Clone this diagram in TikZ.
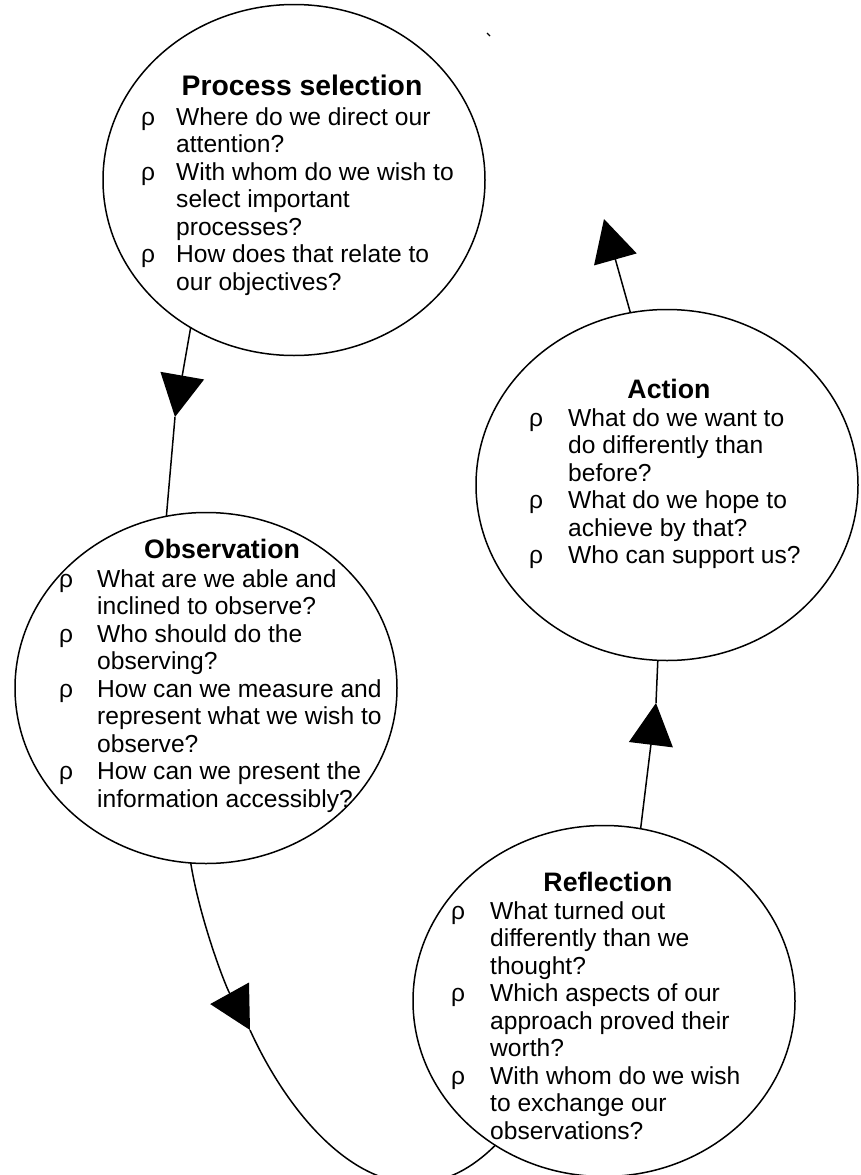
\documentclass[tikz,border=0pt]{standalone}
\usepackage{fontspec}
\setmainfont{Liberation Sans}
\usetikzlibrary{shapes.geometric,arrows.meta}
\tikzset{
  bubble/.style={ellipse, draw, line width=1.5pt, minimum width=382pt, minimum height=351pt, inner sep=0pt, outer sep=0pt},
  ttl/.style={anchor=base, inner sep=0pt, font=\fontsize{26.7}{30}\selectfont\bfseries},
  qs/.style={anchor=base west, inner sep=0pt, align=left, font=\fontsize{24.6}{27.5}\selectfont},
  conn/.style={line width=1.5pt},
  arr/.style={-{Triangle[width=44pt,length=42pt]}},
}
\begin{document}
\begin{tikzpicture}[x=1pt,y=-1pt]
\useasboundingbox (0,0) rectangle (860,1175);
% bubbles
\node[bubble] (ps) at (294,180) {};
\node[bubble] (obs) at (206,688) {};
\node[bubble] (act) at (667,485) {};
\node[bubble] (refl) at (604,1001) {};
% titles
\node[ttl, font=\fontsize{28.3}{30}\selectfont\bfseries] (pst) at (302,95) {Process selection};
\node[ttl] (obst) at (222,558) {Observation};
\node[ttl] (actt) at (669,398) {Action};
\node[ttl] (reflt) at (608,891) {Reflection};
% question lists
\node[qs] (psq) at (141,125) {\begin{tabular}[t]{@{}p{35pt}@{}l@{}}
ρ & Where do we direct our\\
  & attention?\\
ρ & With whom do we wish to\\
  & select important\\
  & processes?\\
ρ & How does that relate to\\
  & our objectives?
\end{tabular}};
\node[qs] (obsq) at (59,587) {\begin{tabular}[t]{@{}p{38pt}@{}l@{}}
ρ & What are we able and\\
  & inclined to observe?\\
ρ & Who should do the\\
  & observing?\\
ρ & How can we measure and\\
  & represent what we wish to\\
  & observe?\\
ρ & How can we present the\\
  & information accessibly?
\end{tabular}};
\node[qs] (actq) at (529,426) {\begin{tabular}[t]{@{}p{39pt}@{}l@{}}
ρ & What do we want to\\
  & do differently than\\
  & before?\\
ρ & What do we hope to\\
  & achieve by that?\\
ρ & Who can support us?
\end{tabular}};
\node[qs] (reflq) at (451,919) {\begin{tabular}[t]{@{}p{39pt}@{}l@{}}
ρ & What turned out\\
  & differently than we\\
  & thought?\\
ρ & Which aspects of our\\
  & approach proved their\\
  & worth?\\
ρ & With whom do we wish\\
  & to exchange our\\
  & observations?
\end{tabular}};
% connectors
\coordinate (amid) at (175,417);
\draw[conn,arr] (ps.235) -- (amid);
\draw[conn] (amid) -- (obs.103);
\coordinate (bmid) at (250,1030);
\draw[conn,arr] (obs.265) .. controls (200,920) and (225,985) .. (bmid);
\draw[conn] (bmid) .. controls (300,1140) and (400,1240) .. (refl.233);
\coordinate (cmid) at (656,703);
\draw[conn,arr] (refl.78) -- (cmid);
\draw[conn] (cmid) -- (act.267);
\coordinate (dend) at (604,219);
\draw[conn,arr] (act.102) -- (dend);
% small stray tick near the top
\coordinate (tk1) at (487,33);
\coordinate (tk2) at (490,36);
\draw[line width=1.3pt] (tk1) -- (tk2);
\end{tikzpicture}
\end{document}
